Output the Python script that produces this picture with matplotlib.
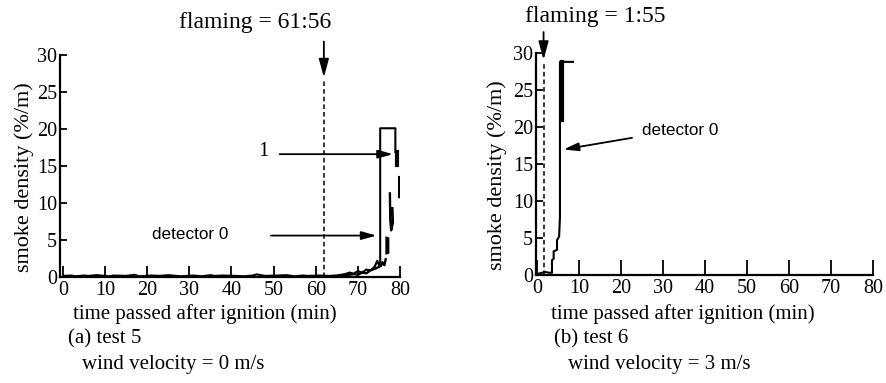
import numpy as np
import matplotlib.pyplot as plt

plt.rcParams['font.family'] = ['Liberation Serif', 'DejaVu Serif']

# test 5 (wind 0 m/s)
d0_t = [0, 2, 3, 5, 6, 8, 11, 12, 15, 17, 18, 21, 23, 25, 26, 28, 31, 33, 35, 36, 38,
        41, 43, 45, 46, 48, 51, 53, 55, 57, 58, 61, 63, 65, 66, 67, 68, 69, 70, 71, 72,
        73, 74, 74.6, 75.0, 75.3, 75.3, 78.9, 78.9]
d0_v = [0.15, 0.2, 0.1, 0.2, 0.15, 0.25, 0.1, 0.2, 0.15, 0.3, 0.1, 0.2, 0.15, 0.25, 0.2,
        0.1, 0.2, 0.1, 0.25, 0.15, 0.2, 0.15, 0.1, 0.2, 0.35, 0.15, 0.2, 0.25, 0.1, 0.2,
        0.15, 0.2, 0.15, 0.2, 0.3, 0.4, 0.6, 0.45, 0.8, 0.6, 1.0, 0.9, 1.4, 2.2, 1.6, 2.0,
        20.1, 20.1, 16.9]
nan = np.nan
d1_t = [64, 67, 69, 70, 71, 72, 73, 74, 75.5, 75.8, 76.3, 76.6, nan, 76.8, 76.8, nan,
        77.2, 77.2, nan, 77.6, 77.7, 77.9, 78.3, nan, 78.3, 78.2, nan, 79.8, 79.8]
d1_v = [0.1, 0.2, 0.4, 0.3, 0.6, 0.5, 0.9, 1.1, 1.5, 2.0, 1.6, 2.4, nan, 3.2, 5.3, nan,
        3.3, 5.2, nan, 11.3, 7.7, 6.3, 7.3, nan, 7.5, 9.3, nan, 10.8, 13.5]
d1_thick_t = [79.3, 79.3]
d1_thick_v = [15.1, 16.9]
flame5 = 61.93

# test 6 (wind 3 m/s)
r_t = [0, 0.5, 1.2, 2.0, 3.0, 3.6, 3.6, 4.0, 4.0, 4.8, 4.8, 5.3, 5.5, 5.5, 8.6]
r_v = [0.1, 0.2, 0.3, 0.4, 0.3, 0.3, 2.0, 2.2, 3.2, 3.4, 4.7, 5.2, 7.8, 28.8, 28.8]
r_thick_t = [6.0, 6.0]
r_thick_v = [20.9, 28.8]
flame6 = 1.6

xticks = [0, 10, 20, 30, 40, 50, 60, 70, 80]
yticks = [0, 5, 10, 15, 20, 25, 30]

W, H = 887, 383
fig = plt.figure(figsize=(W / 100, H / 100), dpi=100)
ax1 = fig.add_axes([60 / W, 1 - 277 / H, 340 / W, 222 / H])
ax2 = fig.add_axes([536 / W, 1 - 275 / H, 337 / W, 222 / H])

for ax, x0, xl in [(ax1, -0.7, 8), (ax2, -0.2, 11)]:
    ax.set_xlim(x0, 80)
    ax.set_ylim(0, 30)
    ax.set_xticks(xticks)
    ax.set_yticks(yticks)
    for s in ['top', 'right']:
        ax.spines[s].set_visible(False)
    for s in ['left', 'bottom']:
        ax.spines[s].set_linewidth(1.6)
    ax.tick_params(axis='x', direction='in', length=xl, width=1.3, labelsize=14.5, pad=3)
    ax.tick_params(axis='y', direction='in', length=5, width=1.3, labelsize=14.5, pad=2)
    ax.set_ylabel('smoke density (%/m)', fontsize=16)
    ax.patch.set_alpha(0)
ax1.yaxis.set_label_coords(-0.076, 0.45)
ax2.yaxis.set_label_coords(-0.086, 0.45)

ax1.plot(d0_t, d0_v, color='black', lw=1.5)
ax1.plot(d1_t, d1_v, color='black', lw=1.7)
ax1.plot(d1_thick_t, d1_thick_v, color='black', lw=3)
ax1.plot([flame5, flame5], [0, 26.6], color='black', lw=1.1, ls=(0, (3, 2)))
ax1.annotate('', xy=(flame5, 26.6), xytext=(flame5, 32.2), annotation_clip=False,
             arrowprops=dict(arrowstyle='-|>,head_length=1.1,head_width=0.3', color='black', lw=1.3))
ax1.text(45.6, 34.4, 'flaming = 61:56', fontsize=17, ha='center', va='center', clip_on=False)
ax1.annotate('', xy=(79.0, 16.6), xytext=(50.8, 16.6),
             arrowprops=dict(arrowstyle='-|>,head_length=0.9,head_width=0.25', color='black', lw=1.3))
ax1.text(47.5, 16.9, '1', fontsize=15, ha='center', va='center')
ax1.annotate('', xy=(75.1, 5.6), xytext=(48.7, 5.6),
             arrowprops=dict(arrowstyle='-|>,head_length=0.9,head_width=0.25', color='black', lw=1.3))
ax1.text(30.2, 5.8, 'detector 0', fontsize=12.3, ha='center', va='center',
         family=['Liberation Sans', 'DejaVu Sans'])

ax2.plot(r_t, r_v, color='black', lw=1.5)
ax2.plot(r_thick_t, r_thick_v, color='black', lw=3)
ax2.plot([flame6, flame6], [0, 28.7], color='black', lw=1.1, ls=(0, (3, 2)))
ax2.annotate('', xy=(flame6, 28.7), xytext=(flame6, 33.2), annotation_clip=False,
             arrowprops=dict(arrowstyle='-|>,head_length=1.1,head_width=0.3', color='black', lw=1.3))
ax2.text(13.8, 34.9, 'flaming = 1:55', fontsize=17, ha='center', va='center', clip_on=False)
ax2.annotate('', xy=(5.7, 16.9), xytext=(23.3, 18.6),
             arrowprops=dict(arrowstyle='-|>,head_length=0.9,head_width=0.25', color='black', lw=1.3))
ax2.text(25.0, 19.5, 'detector 0', fontsize=12.3, ha='left', va='center',
         family=['Liberation Sans', 'DejaVu Sans'])

def ftext(x, y, s, **kw):
    fig.text(x / W, 1 - y / H, s, fontsize=15, va='center', **kw)

ftext(205, 314, 'time passed after ignition (min)', ha='center')
ftext(68, 339, '(a) test 5')
ftext(82, 364, 'wind velocity = 0 m/s')
ftext(683, 314, 'time passed after ignition (min)', ha='center')
ftext(554, 339, '(b) test 6')
ftext(568, 364, 'wind velocity = 3 m/s')

fig.savefig('out.png', dpi=100)
